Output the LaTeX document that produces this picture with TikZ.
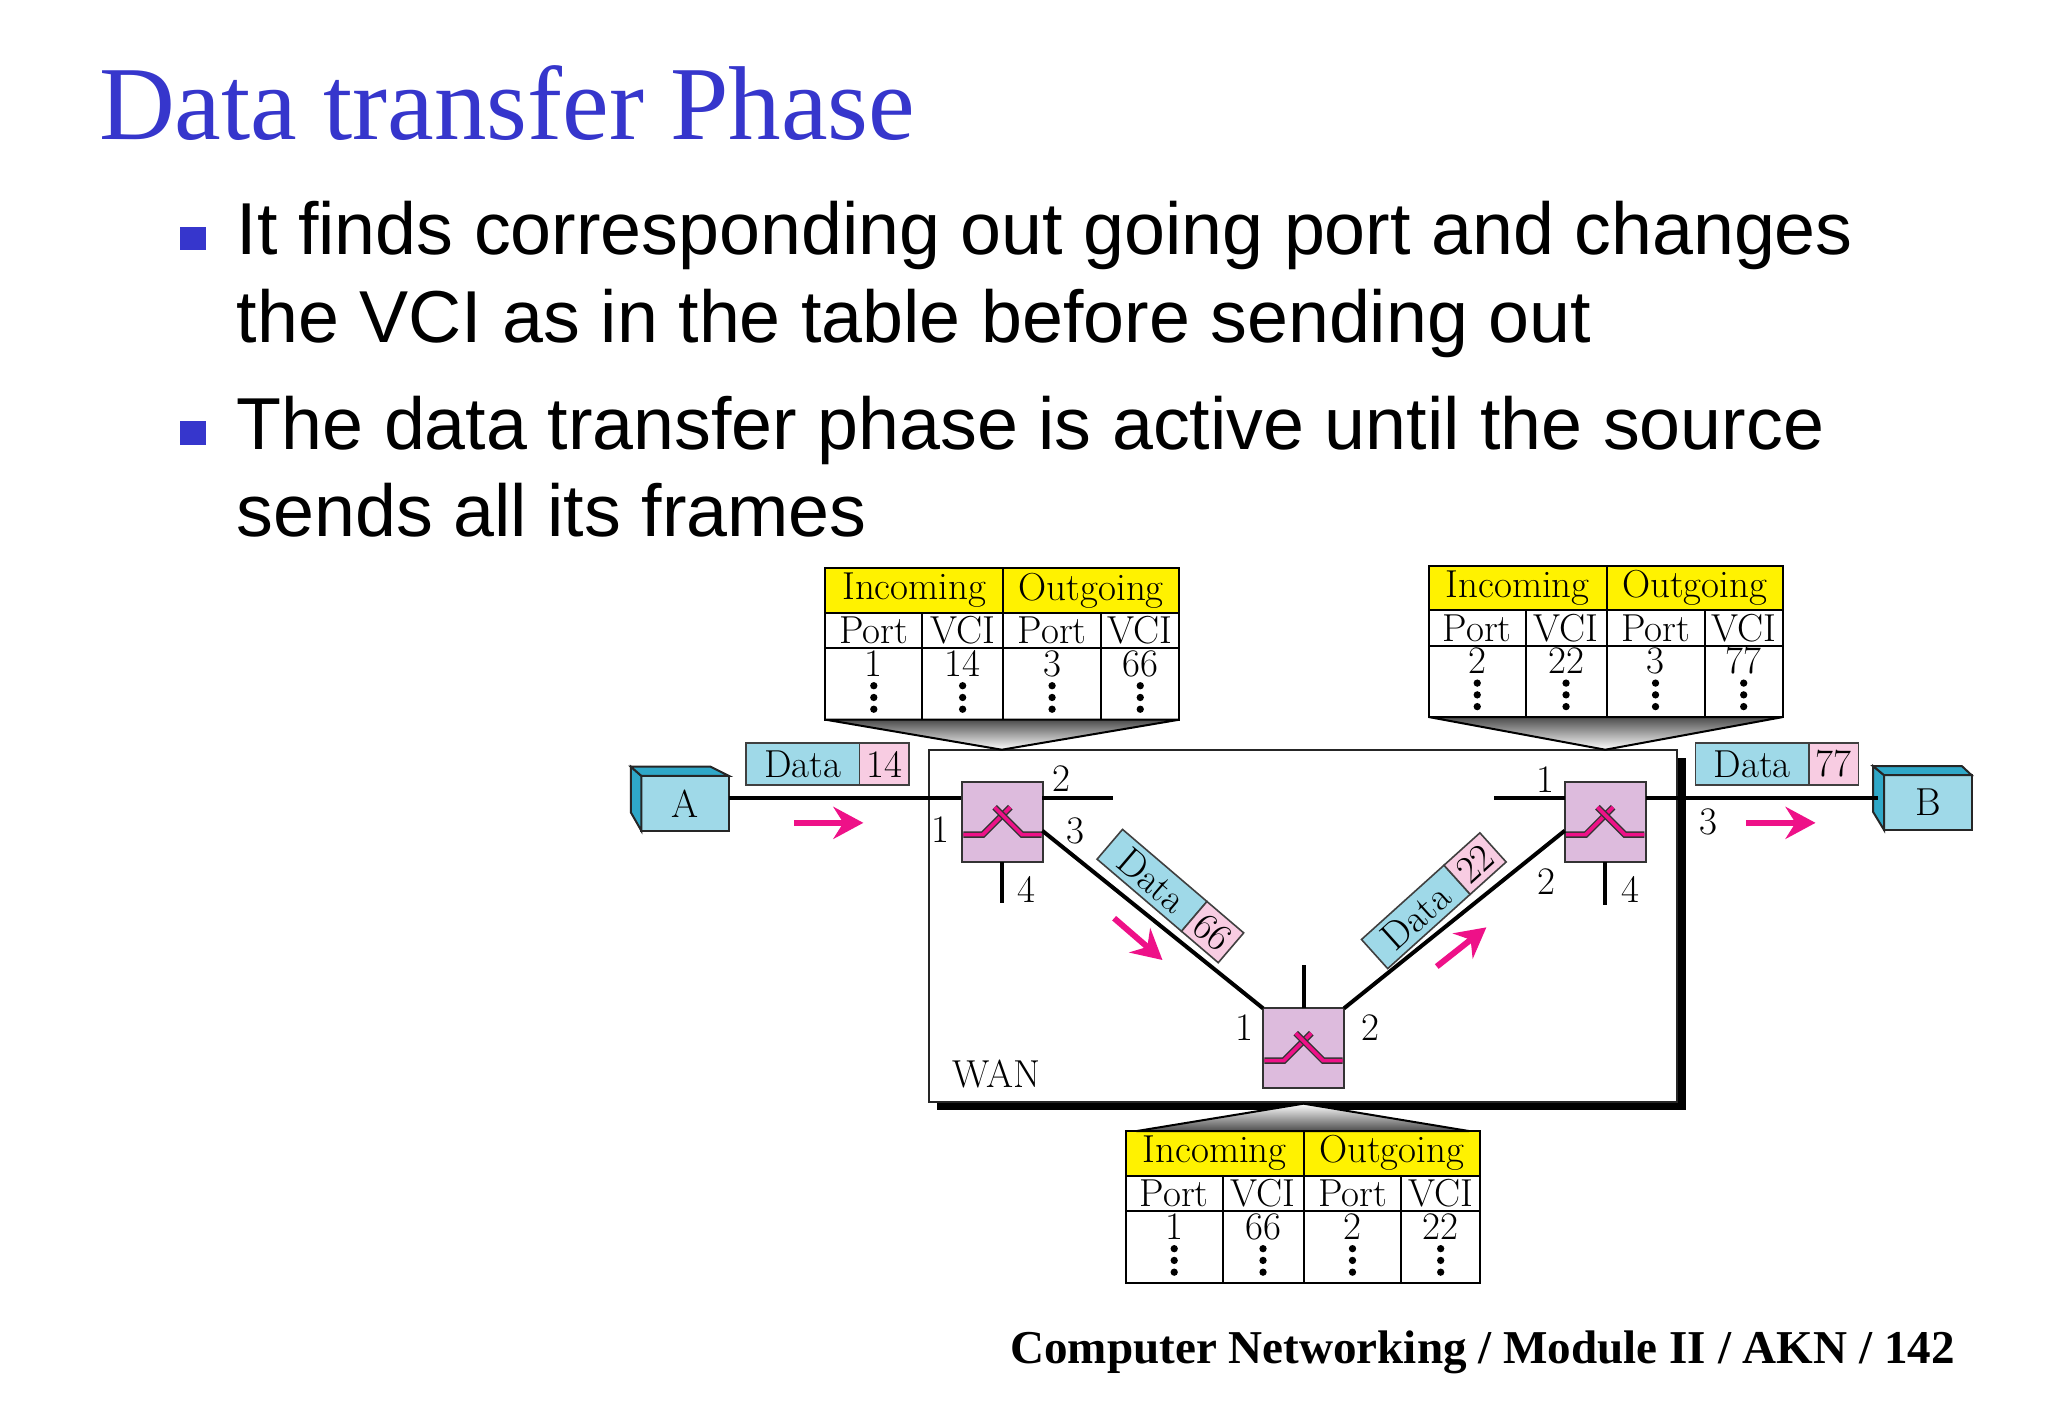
\documentclass[tikz,border=0pt]{standalone}
\usepackage{fontspec}
\usetikzlibrary{arrows.meta}
\newfontfamily\titlefont{Liberation Serif}
\newfontfamily\bodyfont{Liberation Sans}
\newcommand{\unitpx}{0.65306pt}
\definecolor{slideblue}{HTML}{3636CC}
\definecolor{hostblue}{HTML}{9FD9E8}
\definecolor{hostdark}{HTML}{2FA8C8}
\definecolor{tagpink}{HTML}{F8CCE2}
\definecolor{switchfill}{HTML}{DDBBDD}
\definecolor{flowpink}{HTML}{EE1188}
\tikzset{
  diagram font/.style={font=\fontsize{19.5}{19.5}\selectfont},
  table cell/.style={draw,inner sep=0pt,outer sep=0pt,anchor=north west,line width=1pt,diagram font},
  head cell/.style={table cell,fill=yellow,minimum height=34*\unitpx},
  name cell/.style={table cell,minimum height=27.5*\unitpx},
  value cell/.style={table cell,minimum height=54.5*\unitpx},
  value text/.style={diagram font,inner sep=0pt},
  switch node/.style={draw=black!80,fill=switchfill,minimum width=62*\unitpx,minimum height=61*\unitpx,inner sep=0pt,outer sep=0pt,line width=1pt},
  host node/.style={draw=black!85,fill=hostblue,minimum width=67*\unitpx,minimum height=42*\unitpx,inner sep=0pt,outer sep=0pt,line width=1pt,diagram font},
  host side/.style={draw=black!85,fill=hostdark,line width=1pt},
  data part/.style={draw=black!75,fill=hostblue,minimum width=87*\unitpx,minimum height=32*\unitpx,inner sep=0pt,outer sep=0pt,line width=.8pt,diagram font},
  tag part/.style={draw=black!75,fill=tagpink,minimum width=38*\unitpx,minimum height=32*\unitpx,inner sep=0pt,outer sep=0pt,line width=.8pt,diagram font},
  slanted part/.style={minimum height=30*\unitpx},
  link/.style={line width=2pt,black},
  port label/.style={diagram font,inner sep=0pt},
  flow/.style={line width=3pt,flowpink,-{Stealth[length=15pt,width=16pt,inset=5pt]}},
  cross/.style={draw=black!80,line width=.7pt,double=flowpink,double distance=1.8pt,line join=miter},
  funnel/.style={draw=black,line width=1pt},
  bullet mark/.style={fill=slideblue,minimum width=20*\unitpx,minimum height=18*\unitpx,inner sep=0pt},
  body line/.style={anchor=base west,inner sep=0pt,font=\bodyfont\fontsize{36.8}{36.8}\selectfont}
}
% one VCI table, top left corner at #2,#3
\newcommand{\vcitable}[7]{%
  \begin{scope}[shift={(#2,#3)}]
    \node[head cell,minimum width=136*\unitpx] (#1in) at (0,0) {Incoming};
    \node[head cell,minimum width=135*\unitpx] (#1out) at (#1in.north east) {Outgoing};
    \node[name cell,minimum width=74*\unitpx] (#1pa) at (#1in.south west) {Port};
    \node[name cell,minimum width=62*\unitpx] (#1va) at (#1pa.north east) {VCI};
    \node[name cell,minimum width=75*\unitpx] (#1pb) at (#1va.north east) {Port};
    \node[name cell,minimum width=60*\unitpx] (#1vb) at (#1pb.north east) {VCI};
    \node[value cell,minimum width=74*\unitpx] (#1a) at (#1pa.south west) {};
    \node[value cell,minimum width=62*\unitpx] (#1b) at (#1a.north east) {};
    \node[value cell,minimum width=75*\unitpx] (#1c) at (#1b.north east) {};
    \node[value cell,minimum width=60*\unitpx] (#1d) at (#1c.north east) {};
    \foreach \cell/\val in {a/#4,b/#5,c/#6,d/#7} {
      \node[value text] (#1\cell t) at ([yshift=-7.6pt]#1\cell.north) {\val};
      \foreach \dy in {28.5,37.5,46.5}
        \fill ([yshift=-\dy*\unitpx]#1\cell.north) circle (2.8*\unitpx);
    }
  \end{scope}}
\begin{document}
\begin{tikzpicture}[x=\unitpx,y=-\unitpx]
\useasboundingbox (0,0) rectangle (1568,1085.6);
\fill[white] (0,0) rectangle (1568,1085.6);
%slide text
\node[anchor=base west,inner sep=0pt,text=slideblue,font=\titlefont\fontsize{52.5}{52.5}\selectfont] (title) at (75.5,107) {Data transfer Phase};
\node[bullet mark] (b1) at (148,182.5) {};
\node[bullet mark] (b2) at (148,331.5) {};
\node[body line] (l1) at (181,195) {It finds corresponding out going port and changes};
\node[body line] (l2) at (181,262) {the VCI as in the table before sending out};
\node[body line] (l3) at (181,344) {The data transfer phase is active until the source};
\node[body line] (l4) at (181,411) {sends all its frames};
\node[anchor=base east,inner sep=0pt,font=\titlefont\bfseries\fontsize{23.55}{23.55}\selectfont] (foot) at (1497,1044) {Computer Networking / Module II / AKN / 142};
%WAN
\node[fill=black,minimum width=574*\unitpx,minimum height=270*\unitpx,inner sep=0pt,outer sep=0pt] (wanshadow) at (1004,715) {};
\node[draw=black!85,fill=white,line width=1pt,minimum width=573*\unitpx,minimum height=270*\unitpx,inner sep=0pt,outer sep=0pt] (wan) at (997.5,709) {};
\node[port label] (wanlabel) at (763,822) {WAN};
%tables
\vcitable{ta}{632}{435}{1}{14}{3}{66}
\vcitable{tb}{1094}{433}{2}{22}{3}{77}
\vcitable{tc}{862}{866}{1}{66}{2}{22}
\coordinate (tiptop1) at (767,574);
\coordinate (tiptop2) at (1229,574);
\coordinate (tiptop3) at (998,845);
\coordinate (base3l) at (870,866);
\coordinate (base3r) at (1125,866);
\shade[funnel,top color=black!70,bottom color=white] (taa.south west) -- (tad.south east) -- (tiptop1) -- cycle;
\shade[funnel,top color=black!70,bottom color=white] (tba.south west) -- (tbd.south east) -- (tiptop2) -- cycle;
\shade[funnel,top color=white,bottom color=black!70] (base3l) -- (base3r) -- (tiptop3) -- cycle;
%switches
\node[switch node] (sw1) at (767.5,629.5) {};
\node[switch node] (sw2) at (1229,629.5) {};
\node[switch node] (sw3) at (998,802.5) {};
\foreach \sw in {sw1,sw2,sw3} {
  \draw[cross] ([xshift=-30*\unitpx,yshift=-9.5*\unitpx]\sw.center) -- ([xshift=-15*\unitpx,yshift=-9.5*\unitpx]\sw.center) -- ([xshift=6*\unitpx,yshift=11.5*\unitpx]\sw.center);
  \draw[cross] ([xshift=30*\unitpx,yshift=-9.5*\unitpx]\sw.center) -- ([xshift=15*\unitpx,yshift=-9.5*\unitpx]\sw.center) -- ([xshift=-6*\unitpx,yshift=11.5*\unitpx]\sw.center);
}
%hosts
\node[host node] (ha) at (524.5,615) {A};
\node[host node] (hb) at (1476,614.5) {B};
\draw[host side] (ha.north west) -- ++(-8,-7) -- ++(0,35) -- (ha.south west) -- cycle;
\draw[host side] (ha.north west) -- ++(-8,-7) -- ++(61,0) -- (ha.north east) -- cycle;
\draw[host side] (hb.north west) -- ++(-8.5,-7) -- ++(0,35) -- (hb.south west) -- cycle;
\draw[host side] (hb.north west) -- ++(-8.5,-7) -- ++(68,0) -- (hb.north east) -- cycle;
%links
\coordinate (sw1p1) at (736,611);
\coordinate (sw1p2) at (798,611);
\coordinate (sw1p2end) at (852,611);
\coordinate (sw1p3) at (798,636);
\coordinate (sw1p4) at (767,660);
\coordinate (sw1p4end) at (767,691);
\coordinate (sw2p1) at (1198,611);
\coordinate (sw2p1end) at (1144,611);
\coordinate (sw2p2) at (1198,636);
\coordinate (sw2p3) at (1260,611);
\coordinate (sw2p4) at (1229,660);
\coordinate (sw2p4end) at (1229,693);
\coordinate (sw3p3end) at (998,739);
\coordinate (hbin) at (1438,611);
\draw[link] (ha.east |- sw1p1) -- (sw1p1);
\draw[link] (sw1p2) -- (sw1p2end);
\draw[link] (sw1p3) -- (sw3.north west);
\draw[link] (sw1p4) -- (sw1p4end);
\draw[link] (sw3.north east) -- (sw2p2);
\draw[link] (sw3.north) -- (sw3p3end);
\draw[link] (sw2p1) -- (sw2p1end);
\draw[link] (sw2p3) -- (hbin);
\draw[link] (sw2p4) -- (sw2p4end);
%port numbers
\node[port label] (n11) at (720,635) {1};
\node[port label] (n12) at (813,596) {2};
\node[port label] (n13) at (823,636) {3};
\node[port label] (n14) at (786,681) {4};
\node[port label] (n21) at (1183,597) {1};
\node[port label] (n22) at (1184,675) {2};
\node[port label] (n23) at (1308,629) {3};
\node[port label] (n24) at (1248,681) {4};
\node[port label] (n31) at (953,787) {1};
\node[port label] (n32) at (1049,787) {2};
%frames
\node[data part] (d1) at (614.5,585) {Data};
\node[tag part,anchor=west] (t1) at (d1.east) {14};
\node[data part] (d2) at (1341.5,585) {Data};
\node[tag part,anchor=west] (t2) at (d2.east) {77};
\node[data part,slanted part,rotate=-40.5,minimum width=85*\unitpx] (d3) at (882,674) {Data};
\node[tag part,slanted part,rotate=-40.5,anchor=west,minimum width=37*\unitpx] (t3) at (d3.east) {66};
\node[data part,slanted part,rotate=42,minimum width=85*\unitpx] (d4) at (1084,702) {Data};
\node[tag part,slanted part,rotate=42,anchor=west,minimum width=37*\unitpx] (t4) at (d4.east) {22};
%flow arrows
\coordinate (f1a) at (608,630);
\coordinate (f1b) at (661,630);
\coordinate (f2a) at (853,703);
\coordinate (f2b) at (890,735);
\coordinate (f3a) at (1100,740);
\coordinate (f3b) at (1138,710);
\coordinate (f4a) at (1337,630);
\coordinate (f4b) at (1390,630);
\draw[flow] (f1a) -- (f1b);
\draw[flow] (f2a) -- (f2b);
\draw[flow] (f3a) -- (f3b);
\draw[flow] (f4a) -- (f4b);
\end{tikzpicture}
\end{document}
